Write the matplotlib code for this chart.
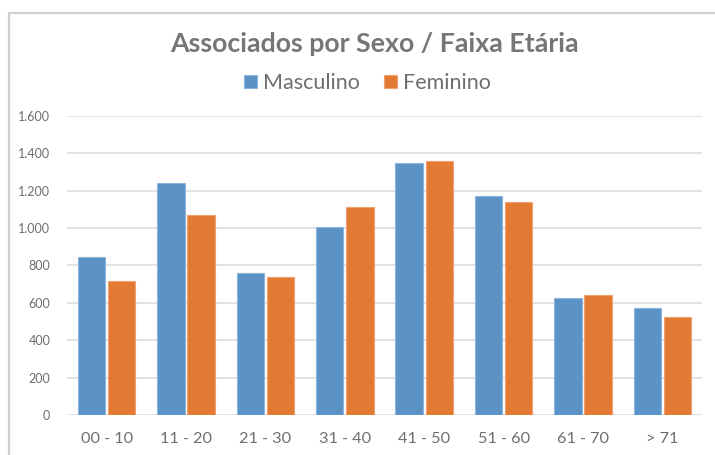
import matplotlib
matplotlib.use("Agg")
import matplotlib.pyplot as plt
import numpy as np
from matplotlib.patches import Rectangle

categories = ["00 - 10", "11 - 20", "21 - 30", "31 - 40", "41 - 50", "51 - 60", "61 - 70", "> 71"]
masculino = [845, 1240, 760, 1005, 1345, 1170, 625, 570]
feminino = [718, 1068, 738, 1113, 1358, 1140, 640, 522]
yticks = [0, 200, 400, 600, 800, 1000, 1200, 1400, 1600]
ytick_labels = ["0", "200", "400", "600", "800", "1.000", "1.200", "1.400", "1.600"]

title_font = "Lato"
body_font = "Lato"

blue = "#5B93C7"
orange = "#E37A33"
title_color = "#767676"
text_color = "#6E6E6E"

fig = plt.figure(figsize=(7.15, 4.55), dpi=100)
fig.patch.set_facecolor("white")

# outer chart frame
fig.patches.append(Rectangle((9 / 715, -0.05), 1.2, 1 - 12.5 / 455 + 0.05,
                             transform=fig.transFigure, fill=False,
                             edgecolor="#CFCFCF", linewidth=1.6))

ax = fig.add_axes([67 / 715, 1 - 415 / 455, (702 - 67) / 715, (415 - 115.7) / 455])
x = np.arange(len(categories))
w = 0.345
off = 0.19
ax.bar(x - off, masculino, w, color=blue, edgecolor="#8DB4DD", linewidth=0.8, zorder=3, label="Masculino")
ax.bar(x + off, feminino, w, color=orange, edgecolor="#EFA170", linewidth=0.8, zorder=3, label="Feminino")

ax.set_xlim(-0.5, len(categories) - 0.5)
ax.set_ylim(0, 1600)
ax.set_yticks(yticks)
ax.set_yticklabels(ytick_labels, fontsize=9, color=text_color, family=body_font)
ax.set_xticks(x)
ax.set_xticklabels(categories, fontsize=11.7, color=text_color, family=body_font)
ax.tick_params(axis="both", length=0)
ax.tick_params(axis="y", pad=12)
ax.tick_params(axis="x", pad=12)
for s in ax.spines.values():
    s.set_visible(False)
ax.grid(axis="y", color="#E2E2E6", linewidth=1.4, zorder=0)
ax.set_axisbelow(True)

fig.text(374.5 / 715, 1 - 44 / 455, "Associados por Sexo / Faixa Etária", ha="center", va="center",
         fontsize=19.3, fontweight="bold", color=title_color, family=title_font)

leg = fig.legend(loc="center", bbox_to_anchor=(367.5 / 715, 1 - 83 / 455), ncol=2, frameon=False,
                 prop={"family": body_font, "size": 15.5}, handlelength=0.6, handleheight=0.6,
                 handletextpad=0.28, columnspacing=1.16, labelcolor=text_color,
                 borderpad=0, borderaxespad=0)

fig.savefig("out.png", dpi=100, facecolor="white")
